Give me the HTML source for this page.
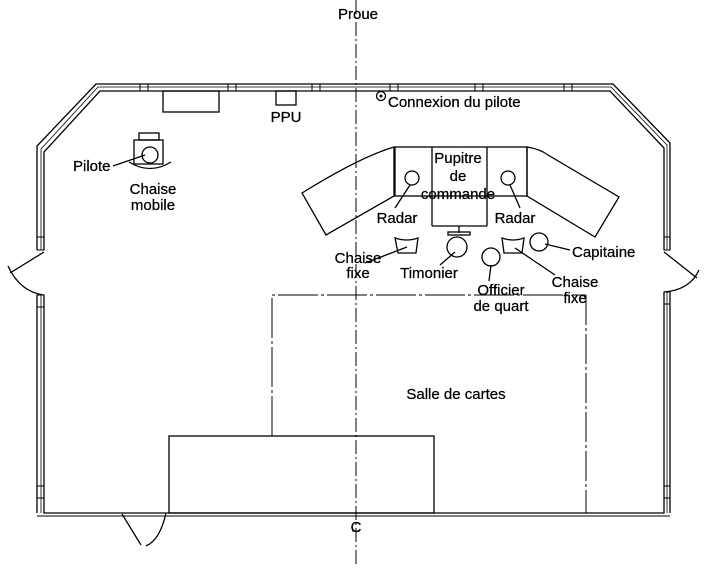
<!DOCTYPE html>
<html><head><meta charset="utf-8"><style>
html,body{margin:0;padding:0;background:#fff}
svg{display:block}
text{font-family:"Liberation Sans",sans-serif;font-size:15px;fill:#000;stroke:#000;stroke-width:0.25}
</style></head><body>
<svg width="720" height="571" viewBox="0 0 720 571" xmlns="http://www.w3.org/2000/svg">
<g fill="none" stroke="#000" stroke-width="1.3">
<line x1="356" y1="0" x2="356" y2="565" stroke-width="1" stroke-dasharray="14,3,2,3"/>
<polyline points="44,250 44,152 100,91 610,91 664,148 664,250"/>
<polyline points="37,250 37,146 96,84 613,84 670,143 670,250"/>
<polyline points="44,295 44,513 664,513 664,292"/>
<polyline points="37,295 37,513"/>
<polyline points="670,292 670,513"/>
<line x1="37" y1="516" x2="670" y2="516" stroke-width="1"/>
<polyline points="41,250 41,149 98,87 611,87 667,145 667,250" stroke-width="0.8"/>
<polyline points="41,295 41,513" stroke-width="0.8"/>
<polyline points="667,292 667,513" stroke-width="0.8"/>
<g stroke-width="1">
<rect x="140" y="84" width="8" height="7"/><rect x="228" y="84" width="8" height="7"/>
<rect x="312" y="84" width="8" height="7"/><rect x="390" y="84" width="8" height="7"/>
<rect x="475" y="84" width="8" height="7"/><rect x="564" y="84" width="8" height="7"/>
<rect x="37" y="237" width="7" height="13"/><rect x="37" y="295" width="7" height="12"/>
<rect x="37" y="486" width="7" height="12"/>
<rect x="664" y="237" width="6" height="13"/><rect x="664" y="292" width="6" height="12"/>
<rect x="664" y="486" width="6" height="12"/>
</g>
<line x1="44" y1="252" x2="10" y2="273"/>
<path d="M8,266 Q20,292 44,295"/>
<line x1="664" y1="252" x2="697" y2="278"/>
<path d="M699,270 Q690,290 664,292"/>
<line x1="122" y1="514" x2="141" y2="545"/>
<path d="M166,513 Q160,540 146,546"/>
<rect x="163" y="91" width="56" height="21"/>
<rect x="276" y="91" width="20" height="14"/>
<circle cx="381" cy="96" r="4.5"/><circle cx="381" cy="96" r="0.8" fill="#000"/>
<rect x="139" y="133" width="20" height="7"/>
<rect x="134" y="140" width="29" height="24"/>
<circle cx="150" cy="155" r="8"/>
<path d="M129,162 Q150,175 171,162"/>
<line x1="113" y1="166" x2="145" y2="155"/>
<path d="M302,193 Q360,157 394,147 L394,196 L326,235 Z"/>
<rect x="395" y="147" width="132" height="49"/>
<line x1="432" y1="147" x2="432" y2="226"/><line x1="487" y1="147" x2="487" y2="226"/>
<line x1="432" y1="226" x2="487" y2="226"/>
<line x1="459" y1="226" x2="459" y2="233"/>
<rect x="448" y="232" width="22" height="3"/>
<path d="M527,147 Q540,149 548,155 L619,197 L595,237 L527,196 Z"/>
<circle cx="412" cy="178" r="7"/><circle cx="508" cy="178" r="7"/>
<line x1="395" y1="208" x2="410" y2="185"/>
<line x1="520" y1="208" x2="510" y2="185"/>
<path d="M395,238 Q407,242 418,238 L416,253 L398,253 Z"/>
<path d="M502,238 Q513,242 524,238 L522,253 L504,253 Z"/>
<circle cx="457" cy="247" r="10"/>
<circle cx="491" cy="257" r="9"/>
<circle cx="539" cy="242" r="9"/>
<line x1="365" y1="263" x2="407" y2="247"/>
<line x1="440" y1="265" x2="455" y2="252"/>
<line x1="489" y1="281" x2="491" y2="265"/>
<line x1="555" y1="275" x2="515" y2="248"/>
<line x1="570" y1="250" x2="545" y2="244"/>
<polyline points="272,436 272,295 586,295" stroke-dasharray="40,3,3,3" stroke-width="1"/>
<line x1="586" y1="295" x2="586" y2="513" stroke-dasharray="30,3,3,3" stroke-width="1"/>
<rect x="169" y="436" width="265" height="77"/>
<line x1="352" y1="531" x2="360" y2="531" stroke-width="1"/>
</g>
<text x="358" y="19" text-anchor="middle">Proue</text>
<text x="286" y="122" text-anchor="middle">PPU</text>
<text x="388" y="107">Connexion du pilote</text>
<text x="73" y="171">Pilote</text>
<text x="153" y="194" text-anchor="middle">Chaise</text>
<text x="153" y="210" text-anchor="middle">mobile</text>
<text x="458" y="163" text-anchor="middle">Pupitre</text>
<text x="458" y="181" text-anchor="middle">de</text>
<text x="458" y="199" text-anchor="middle">commande</text>
<text x="397" y="223" text-anchor="middle">Radar</text>
<text x="515" y="223" text-anchor="middle">Radar</text>
<text x="358" y="263" text-anchor="middle">Chaise</text>
<text x="358" y="278" text-anchor="middle">fixe</text>
<text x="429" y="278" text-anchor="middle">Timonier</text>
<text x="501" y="295" text-anchor="middle">Officier</text>
<text x="501" y="311" text-anchor="middle">de quart</text>
<text x="572" y="257">Capitaine</text>
<text x="575" y="287" text-anchor="middle">Chaise</text>
<text x="575" y="303" text-anchor="middle">fixe</text>
<text x="456" y="399" text-anchor="middle">Salle de cartes</text>
<text x="356" y="532" text-anchor="middle">C</text>
</svg>
</body></html>
